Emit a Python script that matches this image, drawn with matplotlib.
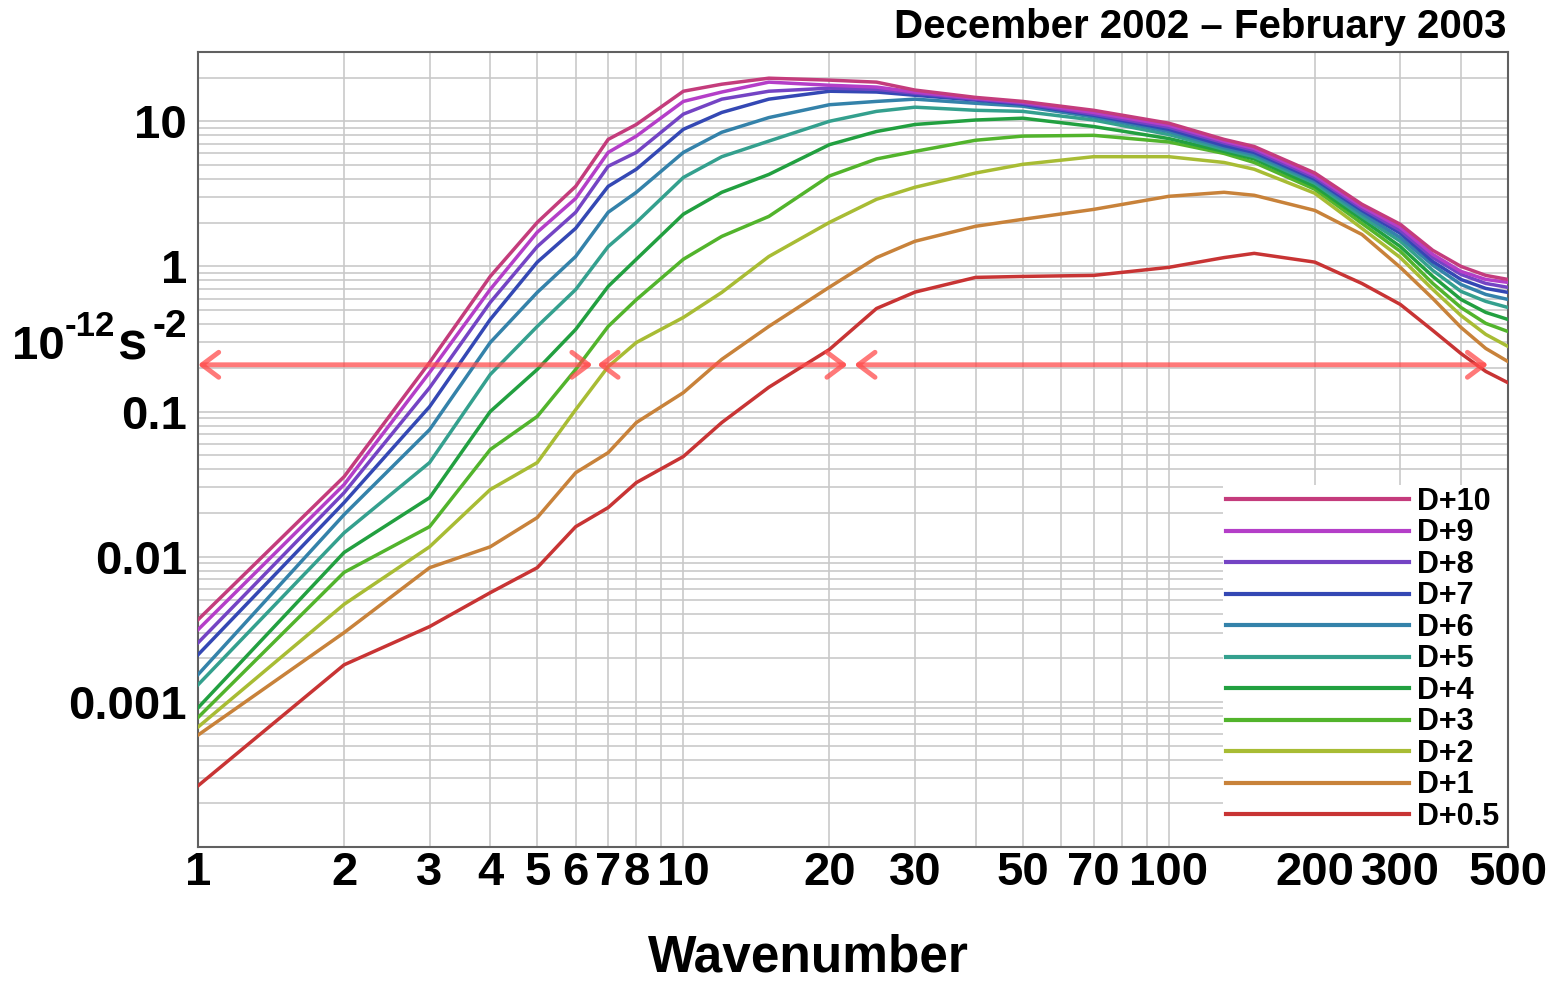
import matplotlib
matplotlib.use("Agg")
import matplotlib.pyplot as plt
import numpy as np
from matplotlib.ticker import FixedLocator, LogLocator, NullFormatter, FixedFormatter
from matplotlib.patches import Rectangle

plt.rcParams['font.family'] = ['Liberation Sans', 'DejaVu Sans']
plt.rcParams['font.weight'] = 'bold'

# ---------------- data ----------------
wavenumber = [1, 2, 3, 4, 5, 6, 7, 8, 10, 12, 15, 20, 25, 30, 40, 50, 70, 100, 130, 150,
              200, 250, 300, 350, 400, 450, 500]

d10 = [3.68e-3, 0.0356, 0.218, 0.853, 2.01, 3.56, 7.5, 9.5, 16.1, 18.0, 19.8, 19.2, 18.6, 16.4,
       14.6, 13.7, 11.9, 9.7, 7.5, 6.7, 4.4, 2.68, 1.95, 1.29, 1.0, 0.867, 0.813]
d9 = [3.14e-3, 0.0314, 0.186, 0.694, 1.72, 2.94, 6.1, 7.9, 13.7, 15.9, 18.6, 17.7, 17.2, 15.9,
      14.4, 13.5, 11.5, 9.4, 7.3, 6.5, 4.24, 2.59, 1.86, 1.21, 0.924, 0.813, 0.776]
d8 = [2.55e-3, 0.0276, 0.146, 0.565, 1.37, 2.36, 4.9, 6.1, 11.2, 14.2, 16.1, 16.9, 16.6, 15.6,
      14.2, 13.3, 11.2, 9.1, 7.1, 6.3, 4.11, 2.51, 1.77, 1.15, 0.881, 0.763, 0.717]
d7 = [2.11e-3, 0.0236, 0.108, 0.431, 1.07, 1.83, 3.56, 4.67, 8.8, 11.5, 14.2, 16.1, 15.9, 15.1,
      14.0, 13.1, 11.0, 8.8, 6.8, 6.1, 3.98, 2.43, 1.69, 1.08, 0.813, 0.705, 0.662]
d6 = [1.54e-3, 0.0195, 0.075, 0.299, 0.662, 1.17, 2.36, 3.24, 6.1, 8.4, 10.6, 13.0, 13.7, 14.2,
      13.3, 12.7, 10.7, 8.5, 6.6, 5.9, 3.86, 2.32, 1.58, 1.02, 0.751, 0.641, 0.592]
d5 = [1.31e-3, 0.0146, 0.0445, 0.180, 0.386, 0.693, 1.37, 2.01, 4.1, 5.7, 7.3, 10.0, 11.7, 12.5,
      11.9, 11.7, 10.2, 8.1, 6.4, 5.7, 3.74, 2.21, 1.49, 0.938, 0.673, 0.574, 0.521]
d4 = [9.1e-4, 0.0107, 0.0255, 0.100, 0.195, 0.368, 0.728, 1.12, 2.29, 3.24, 4.3, 6.9, 8.5, 9.5,
      10.2, 10.5, 9.2, 7.6, 6.2, 5.5, 3.56, 2.11, 1.37, 0.853, 0.592, 0.482, 0.431]
d3 = [7.8e-4, 0.0078, 0.0161, 0.0547, 0.0925, 0.195, 0.386, 0.59, 1.12, 1.61, 2.21, 4.2, 5.5, 6.2,
      7.4, 7.9, 8.0, 7.2, 6.0, 5.2, 3.40, 1.98, 1.27, 0.763, 0.521, 0.405, 0.356]
d2 = [6.7e-4, 0.0047, 0.0117, 0.029, 0.0445, 0.103, 0.204, 0.299, 0.445, 0.662, 1.17, 2.01, 2.90,
      3.51, 4.4, 5.05, 5.7, 5.7, 5.2, 4.67, 3.19, 1.83, 1.15, 0.694, 0.459, 0.340, 0.281]
d1 = [5.9e-4, 0.0030, 0.0084, 0.0117, 0.0186, 0.0379, 0.0521, 0.084, 0.135, 0.229, 0.386, 0.72,
      1.15, 1.49, 1.89, 2.11, 2.47, 3.04, 3.24, 3.09, 2.43, 1.66, 0.985, 0.601, 0.380, 0.272, 0.221]
d05 = [2.64e-4, 0.0018, 0.0033, 0.00565, 0.0084, 0.0161, 0.0218, 0.0324, 0.049, 0.084, 0.147,
       0.268, 0.513, 0.665, 0.84, 0.853, 0.867, 0.985, 1.15, 1.23, 1.07, 0.763, 0.547, 0.362,
       0.251, 0.189, 0.158]

series_labels = ["D+0.5", "D+1", "D+2", "D+3", "D+4", "D+5", "D+6", "D+7", "D+8", "D+9", "D+10"]
series_values = [d05, d1, d2, d3, d4, d5, d6, d7, d8, d9, d10]
series_colors = ["#c83434", "#c8823a", "#a8bc34", "#52b42c", "#22a040", "#34a08e",
                 "#3482aa", "#3448b4", "#7444c4", "#b43ec8", "#c43c7c"]

xtick_values = [1, 2, 3, 4, 5, 6, 7, 8, 10, 20, 30, 50, 70, 100, 200, 300, 500]
xtick_labels = ["1", "2", "3", "4", "5", "6", "7", "8", "10", "20", "30", "50", "70", "100",
                "200", "300", "500"]
ytick_values = [0.001, 0.01, 0.1, 1, 10]
ytick_labels = ["0.001", "0.01", "0.1", "1", "10"]

arrow_level = 0.21
arrow_segments = [(1, 6.5), (6.65, 21.8), (22.5, 455)]

# ---------------- figure ----------------
W, H = 1551, 981
fig = plt.figure(figsize=(W / 100, H / 100), dpi=100)
ax = fig.add_axes([198 / W, 1 - 847 / H, (1508 - 198) / W, (847 - 52) / H])
ax.set_xscale('log')
ax.set_yscale('log')
ax.set_xlim(1, 500)
ax.set_ylim(1e-4, 30)

lines = []
for lab, vals, col in zip(series_labels, series_values, series_colors):
    ln, = ax.plot(wavenumber, vals, color=col, lw=2.5, label=lab, zorder=3,
                  solid_joinstyle='round')
    lines.append(ln)

# ticks
ax.xaxis.set_major_locator(FixedLocator(xtick_values))
ax.xaxis.set_major_formatter(FixedFormatter(xtick_labels))
ax.xaxis.set_minor_locator(LogLocator(base=10, subs=np.arange(2, 10), numticks=50))
ax.xaxis.set_minor_formatter(NullFormatter())
ax.yaxis.set_major_locator(FixedLocator(ytick_values))
ax.yaxis.set_major_formatter(FixedFormatter(ytick_labels))
ax.yaxis.set_minor_locator(LogLocator(base=10, subs=np.arange(1, 10), numticks=50))
ax.yaxis.set_minor_formatter(NullFormatter())
ax.tick_params(which='both', length=0)
ax.tick_params(axis='x', labelsize=34, pad=3)
ax.tick_params(axis='y', labelsize=34, pad=8)
for t in ax.get_xticklabels() + ax.get_yticklabels():
    t.set_fontweight('bold')

ax.grid(which='both', color='#c9c9c9', lw=1.2)
ax.set_axisbelow(True)
for sp in ax.spines.values():
    sp.set_color('#606060')
    sp.set_linewidth(1.5)

# red arrows
for a, b in arrow_segments:
    ax.annotate('', xy=(a, arrow_level), xytext=(b, arrow_level),
                arrowprops=dict(arrowstyle='<->,head_length=0.6,head_width=0.45',
                                mutation_scale=20, color='#ff4c4c', lw=3.5,
                                alpha=0.75, shrinkA=0, shrinkB=0), zorder=4)

# legend (white backing box covering the grid)
ax.add_patch(Rectangle(((1223 - 198) / 1310, 0), 1 - (1223 - 198) / 1310, (847 - 485) / 795,
                       transform=ax.transAxes, facecolor='white', edgecolor='none', zorder=1))
leg = ax.legend(lines[::-1], series_labels[::-1], loc='lower right',
                bbox_to_anchor=((1499 - 198) / 1310, (847 - 832) / 795), borderaxespad=0,
                fontsize=22, handlelength=6.0, handletextpad=0.25, labelspacing=0.05,
                borderpad=0, frameon=False)
for h in leg.get_lines():
    h.set_linewidth(3)
for t in leg.get_texts():
    t.set_fontweight('bold')

# unit label 10^-12 s^-2 (built from pieces so the dashes stay short hyphens)
fig.text(12 / W, 1 - 359 / H, '10', fontsize=34, fontweight='bold', ha='left', va='baseline')
fig.text(65 / W, 1 - 336 / H, '-12', fontsize=25, fontweight='bold', ha='left', va='baseline')
fig.text(117 / W, 1 - 359 / H, 's', fontsize=38, fontweight='bold', ha='left', va='baseline')
fig.text(152 / W, 1 - 337 / H, '-2', fontsize=28, fontweight='bold', ha='left', va='baseline')

fig.text(1507 / W, 1 - 38 / H, 'December 2002 – February 2003', fontsize=29,
         fontweight='bold', ha='right', va='baseline')
fig.text(808 / W, 1 - 971 / H, 'Wavenumber', fontsize=37, fontweight='bold',
         ha='center', va='baseline')

fig.savefig('out.png', dpi=100, facecolor='white')
